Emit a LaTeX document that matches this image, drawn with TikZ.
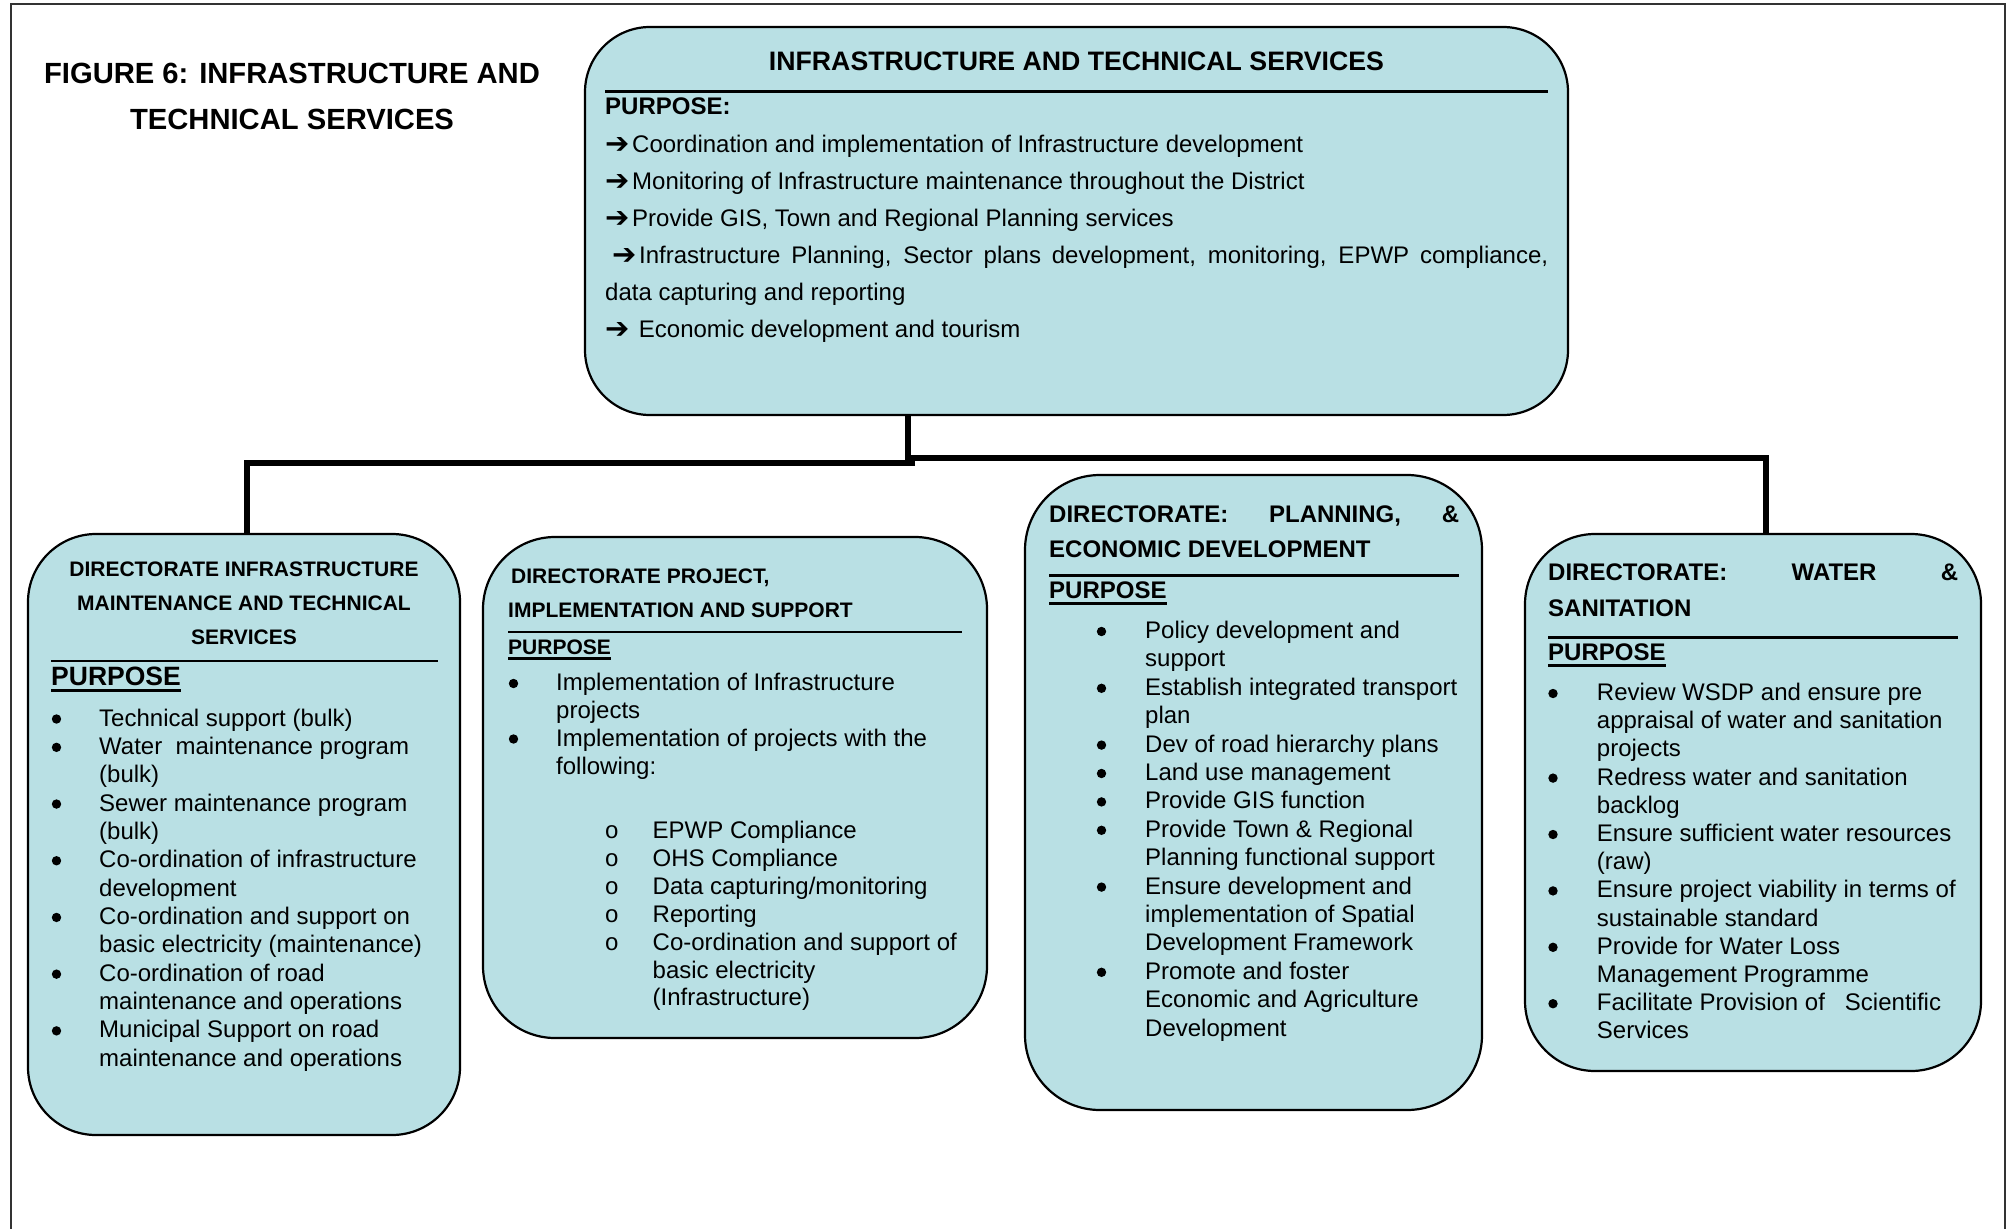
\documentclass[tikz,border=0pt]{standalone}
\usepackage{fontspec}
\setmainfont{Liberation Sans}
\newfontfamily\dejavu{DejaVu Sans}
\newfontfamily\cmono{Liberation Mono}
\usetikzlibrary{calc}
\definecolor{boxfill}{RGB}{185,224,228}
\newcommand\fsz[1]{\fontsize{#1}{#1}\selectfont}
\newcommand\arrglyph{{\dejavu\fontsize{29}{29}\selectfont\raisebox{-1pt}{➔}}}
\newcommand\arr{\makebox[27pt][l]{\arrglyph}}
\begin{document}
\begin{tikzpicture}[x=1pt,y=-1pt,
  box/.style={draw=black, line width=2.2pt, fill=boxfill, rounded corners=#1, inner sep=0pt},
  box/.default=65pt,
  txt/.style={anchor=base west, inner sep=0pt, font=\fsz{24}},
  ttl/.style={anchor=base west, inner sep=0pt, font=\bfseries\fsz{#1}},
  ttl/.default=24,
  conn/.style={line width=6pt},
  rulel/.style={line width=#1},
  rulel/.default=2.5pt,
  uline/.style={line width=#1},
  uline/.default=2.5pt,
  bul/.style={fill=black},
  sub/.style={anchor=base west, inner sep=0pt, font=\cmono\fsz{24}}]
\useasboundingbox (0,0) rectangle (2009,1228);
\fill[white] (0,0) rectangle (2009,1228);
% outer frame (bottom edge lies outside the picture)
\draw[line width=2pt, black!80] (11,1260) -- (11,4.5) -- (2005,4.5) -- (2005,1260);

% figure title
\node[ttl=29.2, anchor=base] (fig1) at (292,84) {FIGURE 6: INFRASTRUCTURE AND};
\node[ttl=29.2, anchor=base] (fig2) at (292,129) {TECHNICAL SERVICES};

% boxes
\node[box=65pt, minimum width=983pt, minimum height=388pt] (top) at (1076.5,221) {};
\node[box=68pt, minimum width=432pt, minimum height=601pt] (b1) at (244,834.5) {};
\node[box=72pt, minimum width=504pt, minimum height=501pt] (b2) at (735,787.5) {};
\node[box=75pt, minimum width=457pt, minimum height=635pt] (b3) at (1253.5,792.5) {};
\node[box=70pt, minimum width=456pt, minimum height=537pt] (b4) at (1753,802.5) {};

% connectors
\coordinate (jt) at (908,415);
\coordinate (jm) at (908,466);
\coordinate (jl) at (915,463);
\coordinate (jr) at (905,458);
\draw[conn] (jt) -- (jm);
\draw[conn] (jl) -| ([xshift=3pt]b1.north);
\draw[conn] (jr) -| ([xshift=13pt]b4.north);

% ---------- top box ----------
\node[ttl=26.7, anchor=base] (tt) at (1076.5,71) {INFRASTRUCTURE AND TECHNICAL SERVICES};
\draw[rulel] (605,91.5) -- (1548,91.5);
\node[ttl] (tp) at (605,114.5) {PURPOSE:};
\node[txt] (tl1) at (605,152.5) {\arr Coordination and implementation of Infrastructure development};
\node[txt] (tl2) at (605,189.5) {\arr Monitoring of Infrastructure maintenance throughout the District};
\node[txt] (tl3) at (605,226.5) {\arr Provide GIS, Town and Regional Planning services};
\node[txt] (tl4) at (612,263.5) {\makebox[936pt][s]{\arr Infrastructure Planning, Sector plans development, monitoring, EPWP compliance,}};
\node[txt] (tl5) at (605,300) {data capturing and reporting};
\node[txt] (tl6) at (605,337) {\makebox[33.7pt][l]{\arrglyph}Economic development and tourism};

% ---------- box 1 ----------
\node[ttl=21, anchor=base] (b1h1) at (244,576.7) {DIRECTORATE INFRASTRUCTURE};
\node[ttl=21, anchor=base] (b1h2) at (244,610) {MAINTENANCE AND TECHNICAL};
\node[ttl=21, anchor=base] (b1h3) at (244,644) {SERVICES};
\draw[rulel] (51,661) -- (438,661);
\node[ttl=26.5] (b1p) at (51,685) {PURPOSE};
\draw[uline=3pt] ($(b1p.base west)+(0,5.5)$) -- ($(b1p.base east)+(0,5.5)$);
\foreach \tx [count=\i from 0] in {{Technical support (bulk)},{Water\ \ maintenance program},{(bulk)},{Sewer maintenance program},{(bulk)},{Co-ordination of infrastructure},{development},{Co-ordination and support on},{basic electricity (maintenance)},{Co-ordination of road},{maintenance and operations},{Municipal Support on road},{maintenance and operations}}
  \node[txt] (b1t\i) at (99,{726+28.35*\i}) {\tx};
\foreach \i in {0,1,3,5,7,9,11}
  \fill[bul] (56.5,{726+28.35*\i-7}) circle (4.7pt);

% ---------- box 2 ----------
\node[ttl=21] (b2h1) at (511,583) {DIRECTORATE PROJECT,};
\node[ttl=21] (b2h2) at (508,617) {IMPLEMENTATION AND SUPPORT};
\draw[rulel] (508,632) -- (962,632);
\node[ttl=21] (b2p) at (508,654) {PURPOSE};
\draw[uline=2.5pt] ($(b2p.base west)+(0,4.5)$) -- ($(b2p.base east)+(0,4.5)$);
\node[txt] (b2t1) at (556,690.5) {Implementation of Infrastructure};
\node[txt] (b2t2) at (556,718) {projects};
\node[txt] (b2t3) at (556,746) {Implementation of projects with the};
\node[txt] (b2t4) at (556,774) {following:};
\fill[bul] (513.5,683.5) circle (4.7pt);
\fill[bul] (513.5,739) circle (4.7pt);
\foreach \tx [count=\j from 0] in {{EPWP Compliance},{OHS Compliance},{Data capturing/monitoring},{Reporting},{Co-ordination and support of},{basic electricity},{(Infrastructure)}}
  \node[txt] (b2s\j) at (652.5,{838.5+27.9*\j}) {\tx};
\foreach \j in {0,...,4}
  \node[sub] (b2o\j) at (604.5,{838.5+27.9*\j}) {o};

% ---------- box 3 ----------
\node[ttl] (b3h1) at (1049,522) {\makebox[410pt][s]{DIRECTORATE:\hfill PLANNING,\hfill \&}};
\node[ttl] (b3h2) at (1049,557) {ECONOMIC DEVELOPMENT};
\draw[rulel=3.5pt] (1049,575.7) -- (1459,575.7);
\node[ttl] (b3p) at (1049,598.5) {PURPOSE};
\draw[uline=3pt] ($(b3p.base west)+(0,5.3)$) -- ($(b3p.base east)+(0,5.3)$);
\foreach \tx [count=\i from 0] in {{Policy development and},{support},{Establish integrated transport},{plan},{Dev of road hierarchy plans},{Land use management},{Provide GIS function},{Provide Town \& Regional},{Planning functional support},{Ensure development and},{implementation of Spatial},{Development Framework},{Promote and foster},{Economic and Agriculture},{Development}}
  \node[txt] (b3t\i) at (1145,{638.5+28.4*\i}) {\tx};
\foreach \i in {0,2,4,5,6,7,9,12}
  \fill[bul] (1101.5,{638.5+28.4*\i-7}) circle (4.7pt);

% ---------- box 4 ----------
\node[ttl] (b4h1) at (1548,580) {\makebox[410pt][s]{DIRECTORATE:\hfill WATER\hfill \&}};
\node[ttl] (b4h2) at (1548,616.7) {SANITATION};
\draw[rulel=3.5pt] (1548,637.7) -- (1958,637.7);
\node[ttl] (b4p) at (1548,660) {PURPOSE};
\draw[uline=3pt] ($(b4p.base west)+(0,5.5)$) -- ($(b4p.base east)+(0,5.5)$);
\foreach \tx [count=\i from 0] in {{Review WSDP and ensure pre},{appraisal of water and sanitation},{projects},{Redress water and sanitation},{backlog},{Ensure sufficient water resources},{(raw)},{Ensure project viability in terms of},{sustainable standard},{Provide for Water Loss},{Management Programme},{Facilitate Provision of\ \ \ Scientific},{Services}}
  \node[txt] (b4t\i) at (1596.7,{700.5+28.2*\i}) {\tx};
\foreach \i in {0,3,5,7,9,11}
  \fill[bul] (1553,{700.5+28.2*\i-7}) circle (4.7pt);
\end{tikzpicture}
\end{document}
